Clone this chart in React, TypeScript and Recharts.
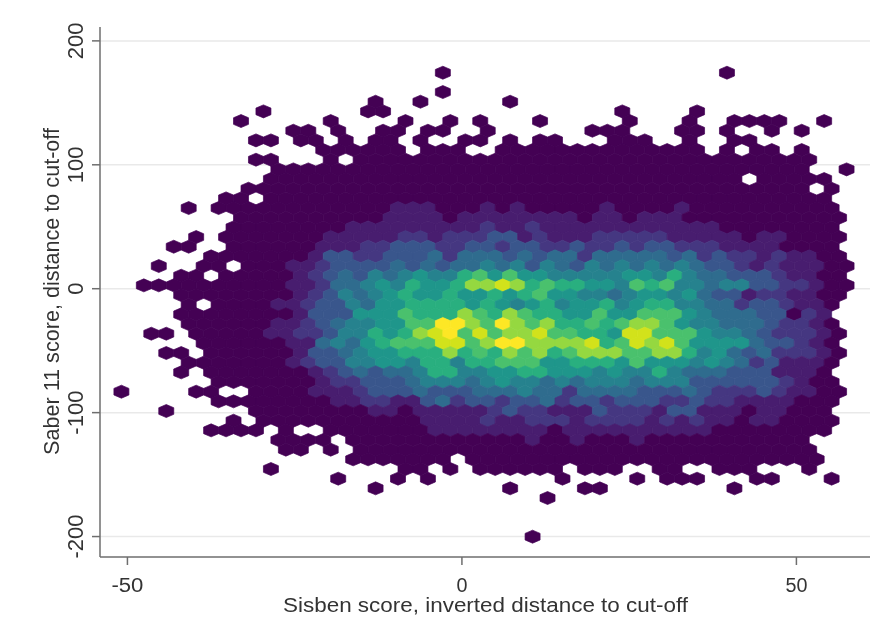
import React from 'react';
import { ScatterChart, Scatter, XAxis, YAxis, CartesianGrid, Label } from 'recharts';

const PALETTE = ['#440154', '#481d6f', '#453781', '#39568c', '#2f6c8e', '#26828e', '#1f968b', '#29af7f', '#4ac16d', '#95d840', '#d2e21b', '#fde725'];
const X_TICKS = [-50, 0, 50];
const Y_TICKS = [-200, -100, 0, 100, 200];
const X_TITLE = 'Sisben score, inverted distance to cut-off';
const Y_TITLE = 'Saber 11 score, distance to cut-off';

// Hexbin lattice: bin centres in data units
const BIN_X0 = -50.9;
const BIN_DX = 1.1175;
const BIN_Y0 = 174.3;
const BIN_DY = -7.8;

// One string per row of bins, top to bottom. Tokens: "c" one bin; "a-b" a run of darkest bins;
// "a-b=l" a run at level l; "c:lll" consecutive bins (every 2nd column) from column c.
const ROWS_TOP = [
  '43 81', '', '43', '34 40 52', '19 33 35 67 77',
  '16 28 38 44 48 56 68 76 82-88 94',
  '23 25 29 35 37 41 43 49 63-67 75 77 81 87 91',
  '18 20 24 26 30 34 36 40 46 48 52 56 58 66-70 76 82 84',
  '27-37 41-45 51-77 81 85 87 91',
  '18 20 28 32-92',
  '21-91 97',
  '20-82 86-94',
  '17-91 95',
  '14 16 20-94',
  '9 13-35 37-41=1 43-47 49:1 51 53:1 55-63 65:1 67-73 75:1 77-95',
  '16-34 36-42=1 44 46-60=1 62 64-66=1 68 70-74=1 76-96',
];
const ROWS_UPPER = [
  '15-29 31-47=1 49:2 51-53=1 55:2 57-79=1 81-95',
  '10 14-26 28-36=1 38:22 42:1 44:222 50:33 54:1 56:2 58-62=1 64-72=2 74-82=1 84 86-88=1 90-96',
  '7 9 15-25 27-31=1 33:22 37:333 43:22 47:33 51:2 53:33 57:22 61:3 63:22 67:3 69:2 71:33 75-79=2 81-87=1 89-95',
  '12-24 26:1 28:33 32:22 36:3334 44:2 46:4443 54:4344 62:2 64:444443 76:423221211 94-96',
  '5 11 13 17-21 23:1123333 37:43434454535435454 71:545433212111 95 97',
  '8 10 14-22 24:1234354 38:5655786866 58:5555566575 78:44333211 94 96',
  '3 5 7-21 23:1124456576 43:6799a97877 63:6658785545 83:533221 95 97',
  '8-22 24:1235456766 44:7667678665 64:5456656433 84:12211 94 96',
];
const ROWS_CORE = [
  '9 13-19 21:1123354667 41:7776765675 61:6675677554 81:4233211 95',
  '8-22 24:1333666877 44:7987987766 64:8668886544 84:433021',
  '9-19 21:1123455668 41:8bb98b9897 61:7878998655 81:4443221 95',
  '4 6 10-18 20:1122355767 40:9ab8a899a8 60:8776aa8886 80:55432221 96',
  '11-21 23:1145467888 43:aa89bb9999 63:a78a9a8666 83:643321 95',
  '6 8 12-22 24:1334566777 44:9787989789 64:9988997564 84:342221 96',
  '9-21 23:1233556657 43:7577888667 63:7768666565 83:423111 95',
  '8 12-24 26:1234344577 46:5566776665 66:6557544433 86:3111 94',
];
const ROWS_LOWER = [
  '13-25 27:1223334555 47:4565545455 67:5455533333 87:321 93 95',
  '0 10 12 18-24 26:1112333433 46:3444544244 66:4433343222 86:3211 94 96',
  '13-27 29:1122113423 49:3233423323 69:3322322111 89:1 91-95',
  '6 18-32 34:1101111123 54:2211132221 74:33111011000',
  '15 19-39 41:1111211222 61:1222212121 81:1011 89-95',
  '12-18 22 28-40 42-56=1 58 60-78=1 80-94',
  '21-27 31-53 55:1 57 59 61:1 63-67 69:1 71-91',
  '22 24 28 32-92',
  '31-43 47-93',
  '20 38 40 44 48-58 62-66 72 74 80-84 92',
  '29 37 41 59 69 73-77 85 87 95',
  '34 52 62 64 82',
  '57', '', '', '', '55',
];

type Bin = { x: number; y: number; level: number };

function parseRow(row: string, r: number): Bin[] {
  const out: Bin[] = [];
  const add = (c: number, level: number) =>
    out.push({ x: BIN_X0 + BIN_DX * c, y: BIN_Y0 + BIN_DY * r, level });
  row.split(' ').filter(Boolean).forEach((tok) => {
    if (tok.includes(':')) {
      const [c, lv] = tok.split(':');
      lv.split('').forEach((ch, i) => add(Number(c) + 2 * i, parseInt(ch, 16)));
    } else {
      const [range, lvl] = tok.split('=');
      const [a, b] = range.split('-').map(Number);
      for (let c = a; c <= (b ?? a); c += 2) add(c, lvl ? Number(lvl) : 0);
    }
  });
  return out;
}

const BINS: Bin[] = [...ROWS_TOP, ...ROWS_UPPER, ...ROWS_CORE, ...ROWS_LOWER].flatMap(parseRow);

const HEX_HALF_W = 7.5;
const HEX_SIDE = 3.3;
const HEX_TIP = 6.5;

function Hex(props: any) {
  const { cx, cy, payload } = props;
  const pts = [
    [-HEX_HALF_W, -HEX_SIDE], [0, -HEX_TIP], [HEX_HALF_W, -HEX_SIDE],
    [HEX_HALF_W, HEX_SIDE], [0, HEX_TIP], [-HEX_HALF_W, HEX_SIDE],
  ];
  const color = PALETTE[payload.level];
  return (
    <polygon
      points={pts.map(([px, py]) => `${cx + px},${cy + py}`).join(' ')}
      fill={color}
      stroke={color}
      strokeWidth={0.7}
      strokeLinejoin="round"
    />
  );
}

const FONT = '"Liberation Sans", Arial, sans-serif';
const AXIS = '#6e6e6e';
const INK = '#333333';

function XTick({ x, y, payload }: any) {
  const s = String(payload.value);
  return (
    <text x={x} y={y + 25} textAnchor="middle" fontFamily={FONT} fontSize={20} fill={INK}
      textLength={s.length === 3 ? 32 : s.length === 2 ? 22 : 11} lengthAdjust="spacingAndGlyphs">
      {s}
    </text>
  );
}

function YTick({ y, payload }: any) {
  return (
    <text x={83} y={y} transform={`rotate(-90 83 ${y})`} textAnchor="middle" fontFamily={FONT} fontSize={22} fill={INK}>
      {payload.value}
    </text>
  );
}

function XTitle() {
  return (
    <text x={485.5} y={612} textAnchor="middle" fontFamily={FONT} fontSize={20} fill={INK} textLength={405} lengthAdjust="spacingAndGlyphs">
      {X_TITLE}
    </text>
  );
}

function YTitle() {
  return (
    <text x={59} y={291.5} transform="rotate(-90 59 291.5)" textAnchor="middle" fontFamily={FONT} fontSize={21.6} fill={INK}>
      {Y_TITLE}
    </text>
  );
}

export default function App() {
  return (
    <div style={{ position: 'absolute', left: 0, top: 0, width: 878, height: 621, background: '#fff', filter: 'blur(0.5px)' }}>
      <ScatterChart width={878} height={621} margin={{ top: 27, right: 8, left: 0, bottom: 0 }}>
        <CartesianGrid vertical={false} horizontalValues={Y_TICKS} stroke="#e9e9e9" strokeWidth={1.5} />
        <XAxis
          type="number"
          dataKey="x"
          domain={[-54.1, 61]}
          ticks={X_TICKS}
          height={64}
          allowDataOverflow
          tick={<XTick />}
          tickSize={8}
          stroke={AXIS}
          strokeWidth={1.5}
        >
          <Label content={<XTitle />} />
        </XAxis>
        <YAxis
          type="number"
          dataKey="y"
          domain={[-216.5, 211.2]}
          ticks={Y_TICKS}
          width={100}
          allowDataOverflow
          tick={<YTick />}
          tickSize={8}
          stroke={AXIS}
          strokeWidth={1.5}
        >
          <Label content={<YTitle />} />
        </YAxis>
        <Scatter data={BINS} shape={<Hex />} isAnimationActive={false} />
      </ScatterChart>
    </div>
  );
}
